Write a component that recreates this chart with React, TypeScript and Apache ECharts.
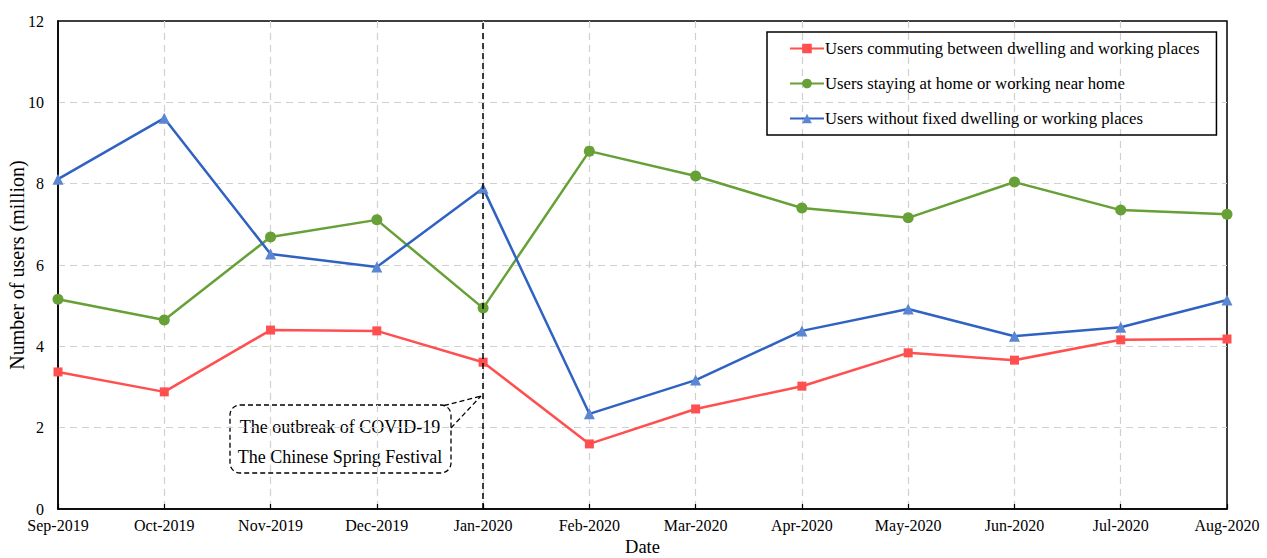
import React, { useEffect, useRef } from "react";
import * as echarts from "echarts";

const categories = ["Sep-2019", "Oct-2019", "Nov-2019", "Dec-2019", "Jan-2020", "Feb-2020", "Mar-2020", "Apr-2020", "May-2020", "Jun-2020", "Jul-2020", "Aug-2020"];
const commuting = [3.37, 2.88, 4.40, 4.38, 3.61, 1.60, 2.46, 3.02, 3.84, 3.66, 4.16, 4.18];
const stayingHome = [5.16, 4.65, 6.69, 7.11, 4.94, 8.80, 8.19, 7.40, 7.16, 8.04, 7.35, 7.25];
const noFixed = [8.11, 9.61, 6.27, 5.95, 7.89, 2.34, 3.17, 4.38, 4.92, 4.25, 4.47, 5.14];
const seriesNames = [
  "Users commuting between dwelling and working places",
  "Users staying at home or working near home",
  "Users without fixed dwelling or working places",
];
const eventCategory = "Jan-2020";
const calloutLines = ["The outbreak of COVID-19", "The Chinese Spring Festival"];

const FONT = "'Liberation Serif', 'Times New Roman', serif";

export default function App() {
  const ref = useRef<HTMLDivElement>(null);
  useEffect(() => {
    document.body.style.margin = "0";
    const chart = echarts.init(ref.current!, null, { renderer: "svg" });
    const dashedGrid = { show: true, showMinLine: false, showMaxLine: false, lineStyle: { color: "#d0d0d0", type: [7, 5] as any, width: 1.2 } };
    chart.setOption({
      animation: false,
      backgroundColor: "#fff",
      textStyle: { fontFamily: FONT, color: "#000" },
      grid: { left: 58, right: 40, top: 21, bottom: 49, show: true, borderColor: "#000", borderWidth: 1.5, containLabel: false, outerBoundsMode: "none" },
      legend: {
        orient: "vertical",
        left: 767,
        top: 32,
        data: seriesNames,
        borderColor: "#000",
        borderWidth: 1.5,
        padding: [8, 17, 8, 22],
        itemGap: 18,
        itemWidth: 34,
        itemHeight: 12,
        textStyle: { fontFamily: FONT, fontSize: 16.7, color: "#000", padding: [0, 0, 0, -4] },
      },
      xAxis: {
        type: "category",
        data: categories,
        boundaryGap: false,
        name: "Date",
        nameLocation: "middle",
        nameGap: 28,
        nameMoveOverlap: false,
        nameTextStyle: { fontFamily: FONT, fontSize: 18.5, color: "#000" },
        axisLine: { lineStyle: { color: "#000", width: 1.5 } },
        axisTick: { show: true, inside: true, length: 5, lineStyle: { color: "#000", width: 1.2 } },
        axisLabel: { fontFamily: FONT, fontSize: 16, color: "#000", margin: 8, interval: 0 },
        splitLine: dashedGrid,
      },
      yAxis: {
        type: "value",
        min: 0,
        max: 12,
        interval: 2,
        name: "Number of users (million)",
        nameLocation: "middle",
        nameGap: 31,
        nameMoveOverlap: false,
        nameTextStyle: { fontFamily: FONT, fontSize: 20, color: "#000" },
        axisLine: { show: true, lineStyle: { color: "#000", width: 1.5 } },
        axisTick: { show: false },
        axisLabel: { fontFamily: FONT, fontSize: 16, color: "#000", margin: 14 },
        splitLine: dashedGrid,
      },
      series: [
        {
          name: seriesNames[0],
          type: "line",
          data: commuting,
          symbol: "rect",
          symbolSize: 9,
          lineStyle: { color: "#ff4f4f", width: 2.5 },
          itemStyle: { color: "#ff4f4f" },
          z: 3,
          markLine: {
            silent: true,
            symbol: "none",
            label: { show: false },
            lineStyle: { color: "#000", type: [6, 4] as any, width: 1.5 },
            data: [{ xAxis: eventCategory }],
          },
        },
        {
          name: seriesNames[1],
          type: "line",
          data: stayingHome,
          symbol: "circle",
          symbolSize: 11,
          lineStyle: { color: "#66a036", width: 2.5 },
          itemStyle: { color: "#66a036" },
          z: 3,
        },
        {
          name: seriesNames[2],
          type: "line",
          data: noFixed,
          symbol: "triangle",
          symbolSize: 11,
          lineStyle: { color: "#2f62c2", width: 2.5 },
          itemStyle: { color: "#5b86d4" },
          z: 3,
        },
      ],
      graphic: [
        {
          type: "group",
          z: 10,
          children: [
            {
              type: "rect",
              shape: { x: 230, y: 405, width: 221, height: 68, r: 10 },
              style: { fill: "#fff", stroke: "#000", lineWidth: 1.3, lineDash: [5, 3] },
            },
            {
              type: "polygon",
              shape: { points: [[444, 404], [482, 396], [452, 430], [453, 404]] },
              style: { fill: "#fff", stroke: "none" },
            },
            {
              type: "line",
              shape: { x1: 444, y1: 405.5, x2: 481, y2: 396 },
              style: { stroke: "#000", lineWidth: 1.3, lineDash: [5, 3] },
            },
            {
              type: "line",
              shape: { x1: 451, y1: 428, x2: 481, y2: 396 },
              style: { stroke: "#000", lineWidth: 1.3, lineDash: [5, 3] },
            },
            {
              type: "text",
              x: 340,
              y: 427,
              style: { text: calloutLines[0], fontFamily: FONT, fontSize: 18, fill: "#000", align: "center", verticalAlign: "middle" },
            },
            {
              type: "text",
              x: 340,
              y: 457,
              style: { text: calloutLines[1], fontFamily: FONT, fontSize: 18, fill: "#000", align: "center", verticalAlign: "middle" },
            },
          ],
        },
      ],
    });
    return () => chart.dispose();
  }, []);
  return <div ref={ref} style={{ width: 1267, height: 558 }} />;
}
